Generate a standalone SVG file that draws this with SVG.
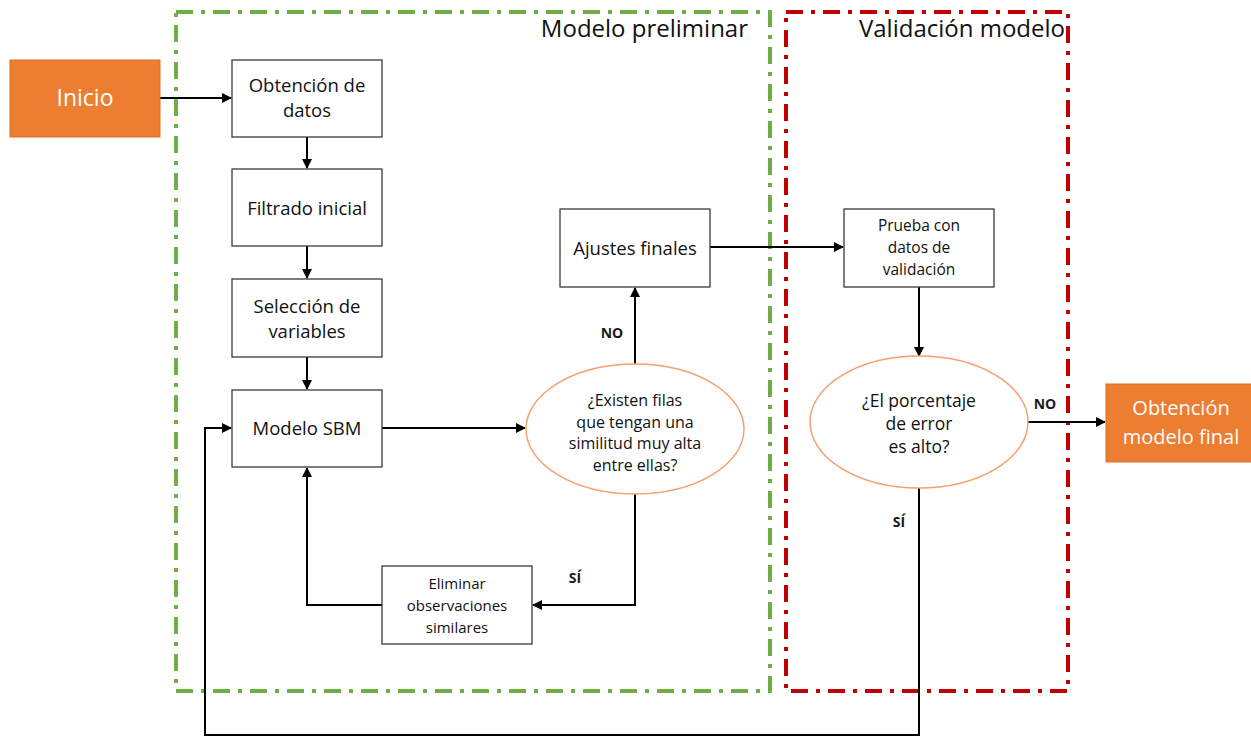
<svg xmlns="http://www.w3.org/2000/svg" width="1251" height="737" viewBox="0 0 1251 737">
<defs>
<style>
.box{fill:#fff;stroke:#3a3a3a;stroke-width:1.3}
.ell{fill:#fff;stroke:#f4a070;stroke-width:1.5}
.orange{fill:#ed7d31;stroke:#d9702a;stroke-width:1}
.t{font-family:"Open Sans","Noto Sans","Liberation Sans",sans-serif;fill:#111;text-anchor:middle}
.w{font-family:"Open Sans","Noto Sans","Liberation Sans",sans-serif;fill:#fff;text-anchor:middle}
.lbl{font-family:"Open Sans","Noto Sans","Liberation Sans",sans-serif;fill:#1a1a1a;font-weight:bold;font-size:14px;text-anchor:middle}
.c{fill:none;stroke:#000;stroke-width:2}
</style>
<marker id="ah" viewBox="0 0 10 10" refX="9" refY="5" markerWidth="5" markerHeight="5" orient="auto" markerUnits="strokeWidth">
<path d="M0,0 L10,5 L0,10 z" fill="#000"/>
</marker>
</defs>
<rect width="1251" height="737" fill="#fff"/>
<g id="regions">
<rect x="176" y="12" width="594" height="679" fill="none" stroke="#70ad47" stroke-width="4" stroke-dasharray="17 8 4 8"/>
<rect x="786" y="12" width="282" height="679" fill="none" stroke="#c00000" stroke-width="4" stroke-dasharray="17 8 4 8"/>
<text class="t" x="748" y="37" font-size="24" style="text-anchor:end">Modelo preliminar</text>
<text class="t" x="1065" y="37" font-size="24" style="text-anchor:end">Validación modelo</text>
</g>
<g id="connectors">
<line class="c" x1="160" y1="98" x2="231" y2="98" marker-end="url(#ah)"/>
<line class="c" x1="307" y1="137" x2="307" y2="168" marker-end="url(#ah)"/>
<line class="c" x1="307" y1="246" x2="307" y2="278" marker-end="url(#ah)"/>
<line class="c" x1="307" y1="357" x2="307" y2="389" marker-end="url(#ah)"/>
<line class="c" x1="382" y1="428" x2="525" y2="428" marker-end="url(#ah)"/>
<line class="c" x1="635" y1="364" x2="635" y2="288" marker-end="url(#ah)"/>
<line class="c" x1="710" y1="247" x2="843" y2="247" marker-end="url(#ah)"/>
<line class="c" x1="919" y1="287" x2="919" y2="356" marker-end="url(#ah)"/>
<line class="c" x1="1028" y1="422" x2="1105" y2="422" marker-end="url(#ah)"/>
<polyline class="c" points="635,494 635,605 533,605" marker-end="url(#ah)"/>
<polyline class="c" points="382,605 307,605 307,468" marker-end="url(#ah)"/>
<polyline class="c" points="919,488 919,735 205,735 205,428 231,428" marker-end="url(#ah)"/>
<text class="lbl" x="612" y="338">NO</text>
<text class="lbl" x="575" y="583">SÍ</text>
<text class="lbl" x="1045" y="409">NO</text>
<text class="lbl" x="899" y="527">SÍ</text>
</g>
<g id="inicio">
<rect class="orange" x="10" y="60" width="150" height="77"/>
<text class="w" x="85" y="106" font-size="23">Inicio</text>
</g>
<g id="obtencion">
<rect class="box" x="232" y="60" width="150" height="77"/>
<text class="t" x="307" y="92" font-size="18.5">Obtención de</text>
<text class="t" x="307" y="117" font-size="18.5">datos</text>
</g>
<g id="filtrado">
<rect class="box" x="232" y="169" width="150" height="77"/>
<text class="t" x="307" y="215" font-size="18.5">Filtrado inicial</text>
</g>
<g id="seleccion">
<rect class="box" x="232" y="279" width="150" height="78"/>
<text class="t" x="307" y="313" font-size="18.5">Selección de</text>
<text class="t" x="307" y="338" font-size="18.5">variables</text>
</g>
<g id="modelo-sbm">
<rect class="box" x="232" y="390" width="150" height="77"/>
<text class="t" x="307" y="435" font-size="18.5">Modelo SBM</text>
</g>
<g id="ajustes">
<rect class="box" x="560" y="209" width="150" height="78"/>
<text class="t" x="635" y="255" font-size="18.5">Ajustes finales</text>
</g>
<g id="prueba">
<rect class="box" x="844" y="209" width="150" height="78"/>
<text class="t" x="919" y="231" font-size="15.5">Prueba con</text>
<text class="t" x="919" y="253" font-size="15.5">datos de</text>
<text class="t" x="919" y="275" font-size="15.5">validación</text>
</g>
<g id="existen">
<ellipse class="ell" cx="635" cy="429" rx="109" ry="65"/>
<text class="t" x="635" y="406" font-size="16">¿Existen filas</text>
<text class="t" x="635" y="428" font-size="16">que tengan una</text>
<text class="t" x="635" y="449" font-size="16">similitud muy alta</text>
<text class="t" x="635" y="471" font-size="16">entre ellas?</text>
</g>
<g id="eliminar">
<rect class="box" x="382" y="566" width="150" height="78"/>
<text class="t" x="457" y="589" font-size="15">Eliminar</text>
<text class="t" x="457" y="611" font-size="15">observaciones</text>
<text class="t" x="457" y="633" font-size="15">similares</text>
</g>
<g id="porcentaje">
<ellipse class="ell" cx="919" cy="422" rx="109" ry="66"/>
<text class="t" x="919" y="407" font-size="17.5">¿El porcentaje</text>
<text class="t" x="919" y="430" font-size="17.5">de error</text>
<text class="t" x="919" y="453" font-size="17.5">es alto?</text>
</g>
<g id="final">
<rect class="orange" x="1106" y="384" width="150" height="78"/>
<text class="w" x="1181" y="415" font-size="20">Obtención</text>
<text class="w" x="1181" y="444" font-size="20">modelo final</text>
</g>
</svg>
